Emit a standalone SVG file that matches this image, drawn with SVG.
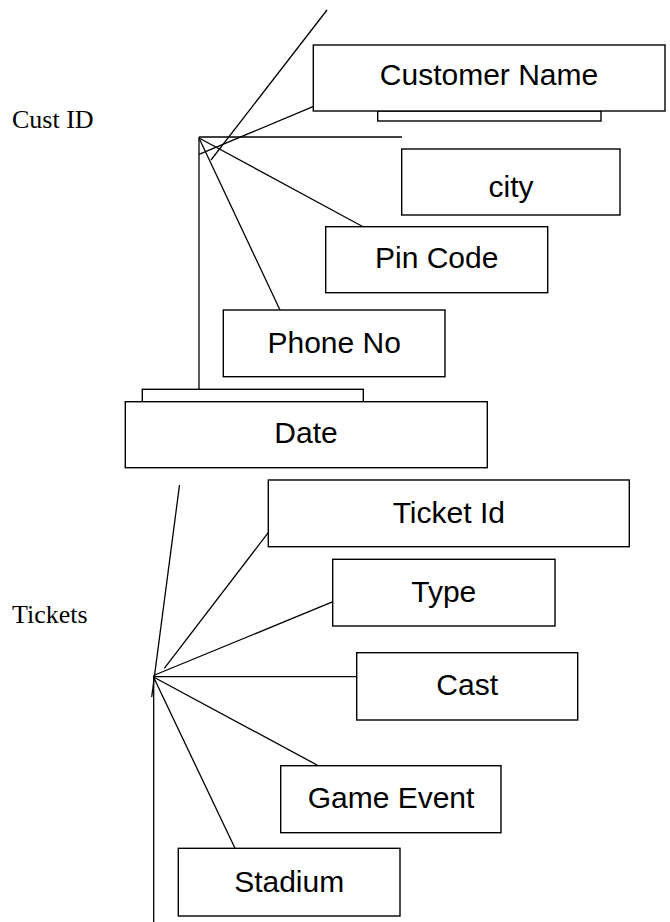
<svg xmlns="http://www.w3.org/2000/svg" width="670" height="922" viewBox="0 0 670 922">
  <style>
    .box { fill: #ffffff; stroke: #000000; stroke-width: 1.4; }
    .lnk { stroke: #000000; stroke-width: 1.3; fill: none; }
    .lbl { font-family: "Liberation Sans", Arial, sans-serif; font-size: 30px; fill: #000000; text-anchor: middle; }
    .ent { font-family: "Liberation Serif", "Times New Roman", serif; font-size: 26px; fill: #000000; }
  </style>
  <rect x="0" y="0" width="670" height="922" fill="#ffffff"/>

  <!-- entity names -->
  <text class="ent" x="12" y="128">Cust ID</text>
  <text class="ent" x="12" y="623">Tickets</text>

  <!-- connectors -->
  <g id="connectors">
    <line class="lnk" x1="327" y1="10" x2="211" y2="160"/>
    <line class="lnk" x1="313" y1="106.7" x2="199" y2="154.3"/>
    <line class="lnk" x1="199" y1="137" x2="402" y2="137"/>
    <line class="lnk" x1="199" y1="138" x2="363" y2="226.7"/>
    <line class="lnk" x1="199" y1="138" x2="280" y2="310"/>
    <line class="lnk" x1="199" y1="137" x2="199" y2="389.3"/>

    <line class="lnk" x1="179.5" y1="485" x2="151.7" y2="697"/>
    <line class="lnk" x1="269" y1="531.7" x2="164.3" y2="668.3"/>
    <line class="lnk" x1="333" y1="601.7" x2="153.5" y2="675.5"/>
    <line class="lnk" x1="153.5" y1="676.7" x2="356.7" y2="676.7"/>
    <line class="lnk" x1="318.3" y1="765.7" x2="153.5" y2="677"/>
    <line class="lnk" x1="235" y1="848.3" x2="153.5" y2="677"/>
    <line class="lnk" x1="153.7" y1="676" x2="153.7" y2="922"/>
  </g>

  <!-- Cust ID attributes -->
  <g id="customer-name">
    <rect class="box" x="377.7" y="111" width="223.3" height="10"/>
    <rect class="box" x="313.3" y="45" width="351.7" height="66"/>
    <text class="lbl" x="489" y="85">Customer Name</text>
  </g>
  <g id="city">
    <rect class="box" x="401.7" y="149" width="218.3" height="66"/>
    <text class="lbl" x="511" y="197">city</text>
  </g>
  <g id="pin-code">
    <rect class="box" x="325.7" y="226.7" width="222" height="66"/>
    <text class="lbl" x="436.7" y="268.3">Pin Code</text>
  </g>
  <g id="phone-no">
    <rect class="box" x="223.3" y="310" width="221.7" height="66.7"/>
    <text class="lbl" x="334.2" y="352.7">Phone No</text>
  </g>
  <g id="date">
    <rect class="box" x="142.3" y="389.3" width="221" height="12.4"/>
    <rect class="box" x="125.3" y="401.7" width="362" height="66"/>
    <text class="lbl" x="306" y="442.7">Date</text>
  </g>

  <!-- Tickets attributes -->
  <g id="ticket-id">
    <rect class="box" x="268.3" y="480" width="361" height="66.7"/>
    <text class="lbl" x="448.8" y="523.3">Ticket Id</text>
  </g>
  <g id="type">
    <rect class="box" x="332.7" y="559.3" width="222.3" height="66.7"/>
    <text class="lbl" x="443.8" y="601.7">Type</text>
  </g>
  <g id="cast">
    <rect class="box" x="356.7" y="652.7" width="221" height="67.3"/>
    <text class="lbl" x="467.2" y="695">Cast</text>
  </g>
  <g id="game-event">
    <rect class="box" x="280.7" y="765.7" width="220.3" height="67"/>
    <text class="lbl" x="391" y="808.3">Game Event</text>
  </g>
  <g id="stadium">
    <rect class="box" x="178.3" y="848.3" width="221.7" height="67.7"/>
    <text class="lbl" x="289.2" y="891.7">Stadium</text>
  </g>
</svg>
